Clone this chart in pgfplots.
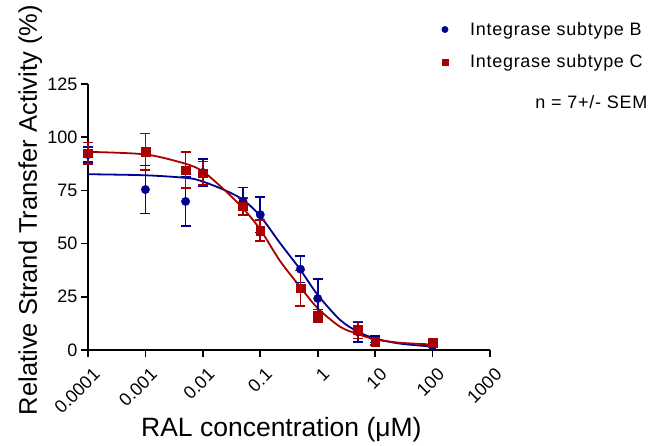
\documentclass[border=0pt]{standalone}
\usepackage{fontspec}
\setmainfont{Liberation Sans}
\newfontfamily\spacedfont[LetterSpace=4]{Liberation Sans}
\usepackage{pgfplots}
\pgfplotsset{compat=1.18}
\definecolor{subB}{RGB}{0,0,145}
\definecolor{subC}{RGB}{168,0,0}

\begin{document}
\begin{tikzpicture}[x=1pt,y=1pt]
\useasboundingbox (0,0) rectangle (657,446);
\begin{axis}[
  at={(88pt,96pt)}, anchor=south west,
  width=402pt, height=266pt, scale only axis,
  xmode=log, xmin=1e-4, xmax=1e3, ymin=0, ymax=125,
  axis x line*=bottom, axis y line*=left,
  axis line style={line width=1.8pt, -},
  every tick/.style={black, line width=1.6pt},
  major tick length=7pt, tick align=outside,
  xtick={1e-4,1e-3,1e-2,1e-1,1,10,100,1000},
  xticklabels={0.0001,0.001,0.01,0.1,1,10,100,1000},
  xminorticks=false, yminorticks=false,
  ytick={0,25,50,75,100,125},
  /pgf/number format/assume math mode=true,
  x tick label style={font=\fontsize{18}{18}\selectfont, xshift=4pt, yshift=-5pt, rotate=45, anchor=north east},
  y tick label style={font=\fontsize{18}{18}\selectfont},
  xlabel={RAL concentration (μM)},
  ylabel={Relative Strand Transfer Activity (\%)},
  xlabel style={font=\fontsize{26.5}{26.5}\selectfont, at={(axis description cs:0.481,-0.327)}, anchor=base},
  ylabel style={font=\fontsize{25.5}{25.5}\selectfont, at={(axis description cs:-0.127,0.526)}, anchor=base},
  clip=false,
  legend style={at={(rel axis cs:0.872,1.248)}, anchor=north west, draw=none, fill=none,
    font=\fontsize{18}{18}\spacedfont, row sep=14pt, column sep=20pt},
  legend image post style={mark size=3.2pt},
  legend cell align=left,
]
% fitted curves
\addplot[subB, line width=1.8pt, smooth, forget plot] coordinates {
 (1e-4,82.6) (1e-3,82.1) (5e-3,80.9) (0.0089,79.6) (0.0227,75.4) (0.05,70.6)
 (0.1,62.9) (0.22,50.3) (0.49,38.0) (1,25.9) (2.46,14.1) (5,8.6) (10,5.4)
 (27,3.0) (100,1.6)};
\addplot[subC, line width=1.8pt, smooth, forget plot] coordinates {
 (1e-4,93.1) (1e-3,91.9) (5e-3,87.5) (0.01,83.9) (0.0227,75.7) (0.05,66.6)
 (0.1,56.6) (0.22,41.9) (0.49,29.8) (1,19.6) (2.46,10.9) (5,7.5) (10,5.0)
 (27,3.4) (100,2.6)};
% data with SEM
\addplot[subB, only marks, mark=*, mark size=4.2pt, mark options={fill=subB},
  error bars/.cd, y dir=both, y explicit,
  error bar style={line width=1.8pt},
  error mark options={line width=1.8pt, mark size=5pt, rotate=90}]
  table[x=x, y=y, y error=e] {
x y e
1e-4 91.8 3.6
1e-3 75.4 11.3
5e-3 69.8 11.5
0.01 83.4 6.5
0.05 69.9 6.5
0.1 63.6 8.4
0.5 38.0 6.3
1 24.2 9.3
5 8.6 4.7
10 5.0 1.5
100 1.8 0.6
};
\addlegendentry{Integrase subtype B}
\addplot[subC, only marks, mark=square*, mark size=4.3pt, mark options={fill=subC},
  error bars/.cd, y dir=both, y explicit,
  error bar style={line width=1.8pt},
  error mark options={line width=1.8pt, mark size=5pt, rotate=90}]
  table[x=x, y=y, y error=e] {
x y e
1e-4 92.5 5.0
1e-3 93.2 8.5
5e-3 84.5 8.4
0.01 83.0 5.6
0.05 67.6 4.0
0.1 56.1 5.0
0.5 29.0 8.4
1 16.0 3.0
5 9.4 4.0
10 3.9 1.5
100 3.4 0.6
};
\addlegendentry{Integrase subtype C}
\node[anchor=east, font=\fontsize{18}{18}\spacedfont] at (rel axis cs:1.4,0.932) {n = 7+/- SEM};
\end{axis}
\end{tikzpicture}
\end{document}
